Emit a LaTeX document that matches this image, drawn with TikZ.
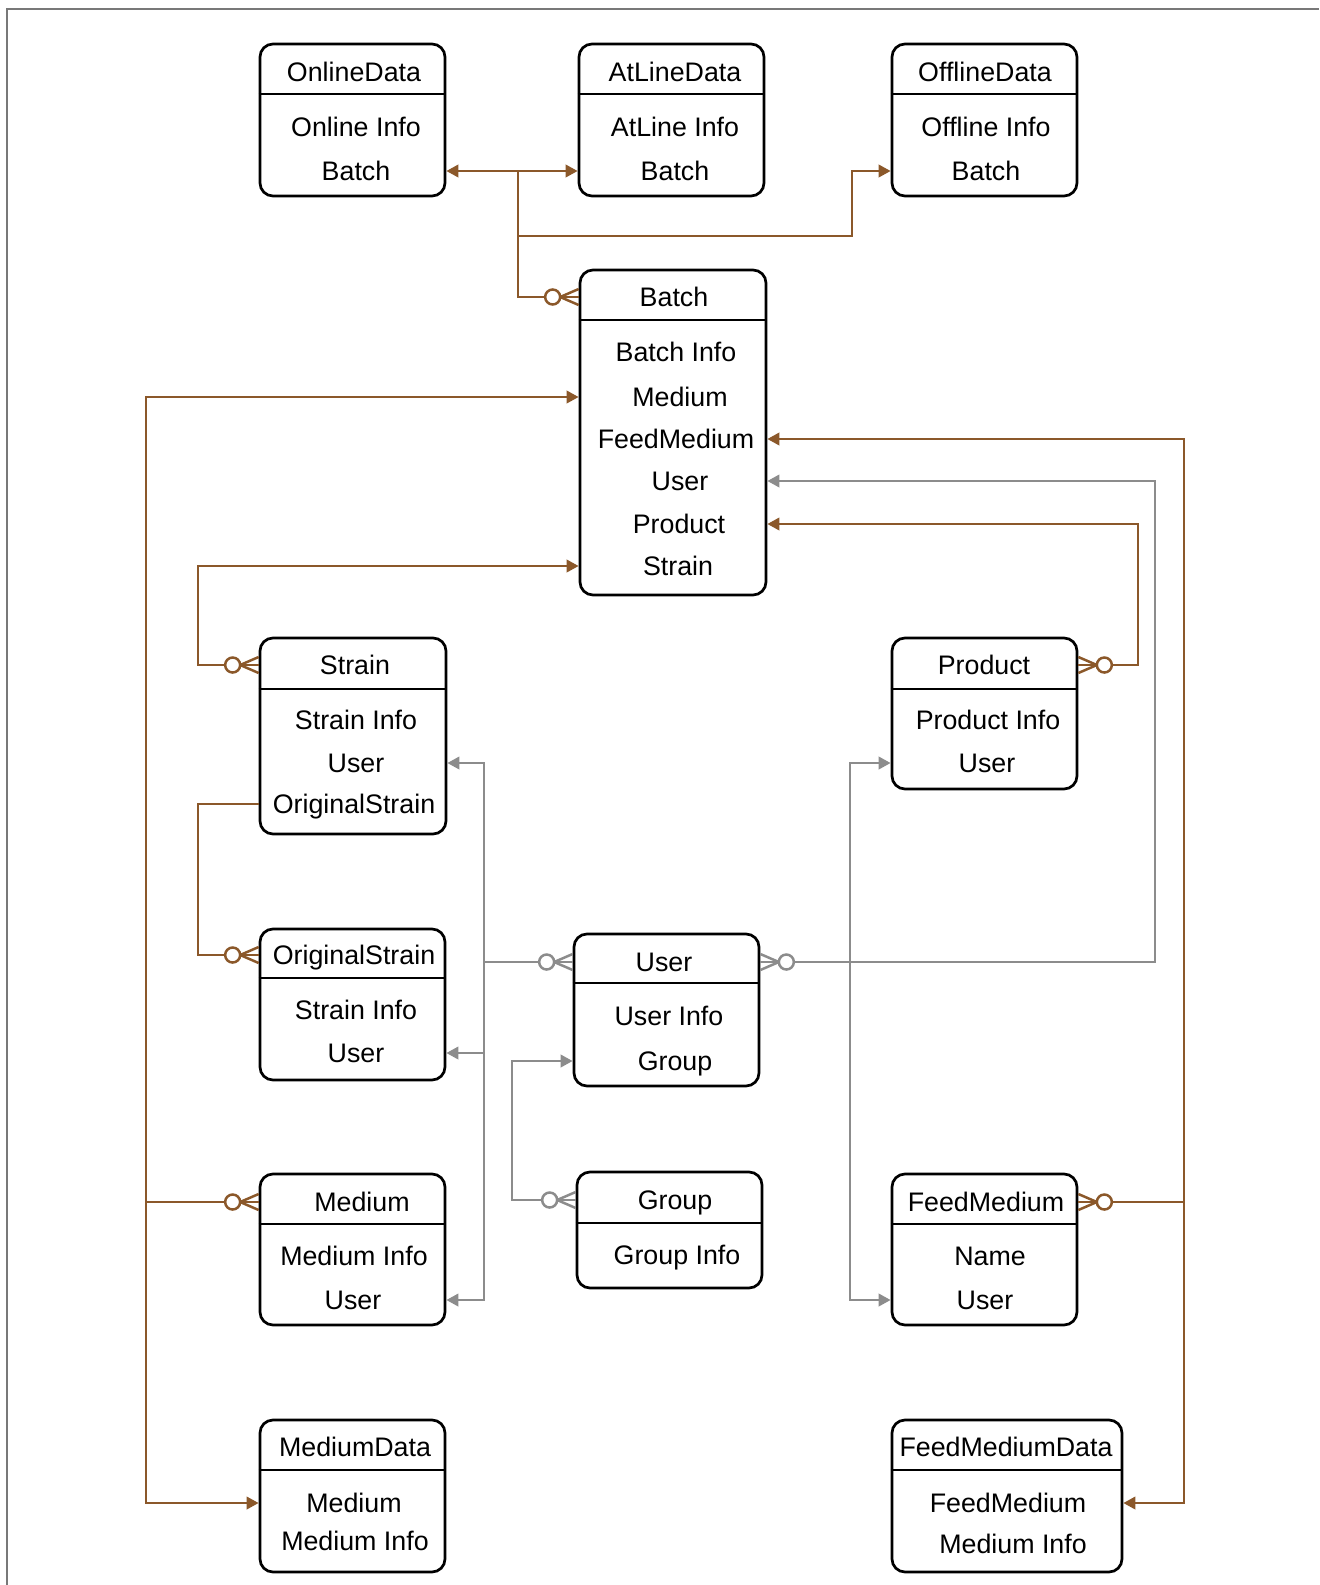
\documentclass[tikz,border=0pt]{standalone}
\usepackage{fontspec}
\setmainfont{Liberation Sans}
\usetikzlibrary{arrows.meta,fit}

\definecolor{linkbrown}{RGB}{139,88,42}
\definecolor{linkgray}{RGB}{140,140,140}
\definecolor{framegray}{RGB}{120,120,120}

\tikzset{
  entity/.style={draw=black, line width=1.35pt, rounded corners=6.5pt, inner sep=0pt},
  divider/.style={draw=black, line width=1.15pt},
  lbl/.style={font=\fontsize{13.4pt}{15pt}\selectfont, inner sep=0pt,
              text height=9.5pt, text depth=0pt, anchor=center},
  brn/.style={color=linkbrown, line width=1.25pt},
  gry/.style={color=linkgray, line width=1.25pt},
  % zero-or-many end: foot touches the entity edge, circle lies outside
  zmany/.pic={
    \draw (0,0) -- (-18.5,0);
    \draw (0,-8) -- (-18.5,0) -- (0,8);
    \draw[fill=white] (-26,0) circle[radius=7.5];
  }
}

% entity box: name, left, top, right, bottom, y of the header rule
\newcommand\erbox[6]{%
  \node[entity, fit={(#2,#3) (#4,#5)}] (#1) {};
  \draw[divider] (#1.west |- 0,#6) -- (#1.east |- 0,#6);
}

\begin{document}
\begin{tikzpicture}[x=0.5pt, y=-0.5pt, >={Triangle[length=6pt,width=6.2pt]}]
\useasboundingbox (0,0) rectangle (1319,1585);

% frame
\draw[framegray, line width=1pt] (6.5,1585) -- (6.5,8.5) -- (1319,8.5);

% ---- entities ----
\erbox{online}{260}{44}{445}{196}{94}
\node[lbl] (online-t)  at (354,72)  {OnlineData};
\node[lbl] (online-r1) at (356,127) {Online Info};
\node[lbl] (online-r2) at (356,171) {Batch};

\erbox{atline}{579}{44}{764}{196}{94}
\node[lbl] (atline-t)  at (675,72)  {AtLineData};
\node[lbl] (atline-r1) at (675,127) {AtLine Info};
\node[lbl] (atline-r2) at (675,171) {Batch};

\erbox{offline}{892}{44}{1077}{196}{94}
\node[lbl] (offline-t)  at (985,72)  {OfflineData};
\node[lbl] (offline-r1) at (986,127) {Offline Info};
\node[lbl] (offline-r2) at (986,171) {Batch};

\erbox{batch}{580}{270}{766}{595}{320}
\node[lbl] (batch-t)  at (674,297) {Batch};
\node[lbl] (batch-r1) at (676,352) {Batch Info};
\node[lbl] (batch-r2) at (680,397) {Medium};
\node[lbl] (batch-r3) at (676,439) {FeedMedium};
\node[lbl] (batch-r4) at (680,481) {User};
\node[lbl] (batch-r5) at (679,524) {Product};
\node[lbl] (batch-r6) at (678,566) {Strain};

\erbox{strain}{260}{638}{446}{834}{689}
\node[lbl] (strain-t)  at (355,665) {Strain};
\node[lbl] (strain-r1) at (356,720) {Strain Info};
\node[lbl] (strain-r2) at (356,763) {User};
\node[lbl] (strain-r3) at (354,804) {OriginalStrain};

\erbox{product}{892}{638}{1077}{789}{689}
\node[lbl] (product-t)  at (984,665) {Product};
\node[lbl] (product-r1) at (988,720) {Product Info};
\node[lbl] (product-r2) at (987,763) {User};

\erbox{orig}{260}{929}{445}{1080}{978}
\node[lbl] (orig-t)  at (354,955)  {OriginalStrain};
\node[lbl] (orig-r1) at (356,1010) {Strain Info};
\node[lbl] (orig-r2) at (356,1053) {User};

\erbox{user}{574}{934}{759}{1086}{983}
\node[lbl] (user-t)  at (664,962)  {User};
\node[lbl] (user-r1) at (669,1016) {User Info};
\node[lbl] (user-r2) at (675,1061) {Group};

\erbox{medium}{260}{1174}{445}{1325}{1224}
\node[lbl] (medium-t)  at (362,1202) {Medium};
\node[lbl] (medium-r1) at (354,1256) {Medium Info};
\node[lbl] (medium-r2) at (353,1300) {User};

\erbox{group}{577}{1172}{762}{1288}{1223}
\node[lbl] (group-t)  at (675,1200) {Group};
\node[lbl] (group-r1) at (677,1255) {Group Info};

\erbox{feed}{892}{1174}{1077}{1325}{1224}
\node[lbl] (feed-t)  at (986,1202) {FeedMedium};
\node[lbl] (feed-r1) at (990,1256) {Name};
\node[lbl] (feed-r2) at (985,1300) {User};

\erbox{mdata}{260}{1420}{445}{1572}{1470}
\node[lbl] (mdata-t)  at (355,1447) {MediumData};
\node[lbl] (mdata-r1) at (354,1503) {Medium};
\node[lbl] (mdata-r2) at (355,1541) {Medium Info};

\erbox{fdata}{892}{1420}{1122}{1572}{1470}
\node[lbl] (fdata-t)  at (1006,1447) {FeedMediumData};
\node[lbl] (fdata-r1) at (1008,1503) {FeedMedium};
\node[lbl] (fdata-r2) at (1013,1544) {Medium Info};

% ---- routing points ----
\coordinate (split)     at (518,171);
\coordinate (split-low) at (518,236);
\coordinate (off-bend)  at (852,236);
\coordinate (left-rail) at (146,1503);
\coordinate (s-rail)    at (198,665);
\coordinate (r-rail)    at (1184,1503);
\coordinate (g-rail)    at (1155,481);
\coordinate (p-rail)    at (1138,524);
\coordinate (u-rail)    at (484,763);
\coordinate (grp-rail)  at (512,1200);
\coordinate (pu-rail)   at (850,763);

% ---- batch data tables ----
\draw[brn,<->] (online.east |- online-r2) -- (atline.west |- atline-r2);
\draw[brn] (split) -- (split |- batch-t) -- (batch.west |- batch-t);
\pic[brn] at (batch.west |- batch-t) {zmany};
\draw[brn,->] (split-low) -- (off-bend) |- (offline.west |- offline-r2);

% ---- medium ----
\draw[brn,<->] (batch.west |- batch-r2) -| (left-rail) -- (mdata.west |- mdata-r1);
\draw[brn] (left-rail |- medium-t) -- (medium.west |- medium-t);
\pic[brn] at (medium.west |- medium-t) {zmany};

% ---- strain ----
\draw[brn,->] (strain.west |- strain-t) -- (s-rail) |- (batch.west |- batch-r6);
\pic[brn] at (strain.west |- strain-t) {zmany};
\draw[brn] (strain.west |- strain-r3) -- (s-rail |- strain-r3) |- (orig.west |- orig-t);
\pic[brn] at (orig.west |- orig-t) {zmany};

% ---- feed medium ----
\draw[brn,<->] (batch.east |- batch-r3) -| (r-rail) -- (fdata.east |- fdata-r1);
\draw[brn] (r-rail |- feed-t) -- (feed.east |- feed-t);
\pic[brn, rotate=180] at (feed.east |- feed-t) {zmany};

% ---- product ----
\draw[brn,<-] (batch.east |- batch-r5) -- (p-rail) |- (product.east |- product-t);
\pic[brn, rotate=180] at (product.east |- product-t) {zmany};

% ---- user ----
\draw[gry,<-] (batch.east |- batch-r4) -- (g-rail) |- (user.east |- user-t);
\pic[gry, rotate=180] at (user.east |- user-t) {zmany};

\draw[gry,<->] (strain.east |- strain-r2) -- (u-rail) -- (u-rail |- medium-r2) -- (medium.east |- medium-r2);
\draw[gry,->] (u-rail |- orig-r2) -- (orig.east |- orig-r2);
\draw[gry] (u-rail |- user-t) -- (user.west |- user-t);
\pic[gry] at (user.west |- user-t) {zmany};

\draw[gry,->] (group.west |- group-t) -- (grp-rail) |- (user.west |- user-r2);
\pic[gry] at (group.west |- group-t) {zmany};

\draw[gry,<->] (product.west |- product-r2) -- (pu-rail) -- (pu-rail |- feed-r2) -- (feed.west |- feed-r2);

\end{tikzpicture}
\end{document}
